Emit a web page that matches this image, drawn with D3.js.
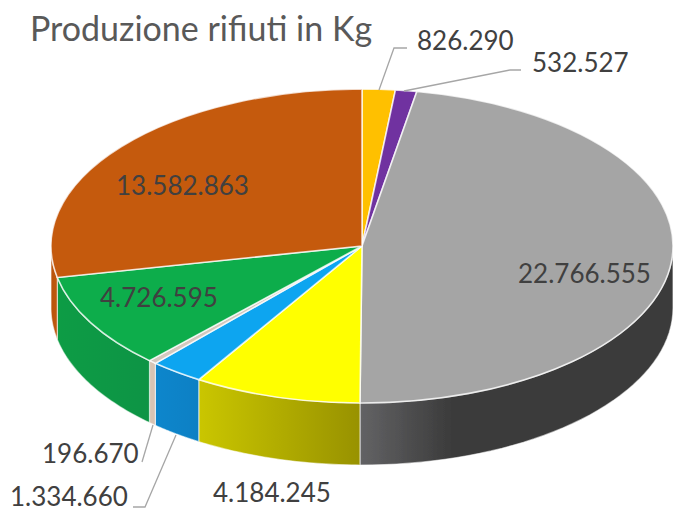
<!DOCTYPE html>
<html>
<head>
<meta charset="utf-8">
<script src="https://cdn.jsdelivr.net/npm/d3@7"></script>
<style>
  html, body { margin: 0; padding: 0; background: #fff; }
  svg { display: block; }
  text { font-family: Lato, "Open Sans", sans-serif; }
</style>
</head>
<body>
<svg id="chart" width="674" height="512"></svg>
<script>
// values, clockwise from 12 o'clock
var labels = ["826.290", "532.527", "22.766.555", "4.184.245", "1.334.660", "196.670", "4.726.595", "13.582.863"];
var values = [826290, 532527, 22766555, 4184245, 1334660, 196670, 4726595, 13582863];
var topColors = ["#FFC000", "#7030A0", "#A5A5A5", "#FFFF00", "#0FA5F0", "#D3C8BE", "#0BAD4C", "#C55A11"];
var wallFrom = ["#C09000", "#542478", "#626264", "#CAC600", "#0A86CC", "#D8C4B4", "#0E9C45", "#B9540F"];
var wallTo = ["#C09000", "#542478", "#3B3B3B", "#989200", "#0A80C4", "#D8C4B4", "#0E9444", "#C05A10"];

// label placement, same order as labels
var labelX = [417, 532, 518, 213, 10, 42, 100, 116];
var labelY = [50, 72, 283, 502, 506, 463, 307, 195];
// leader lines: slice index and its bend points
var leaders = [
  {i: 0, pts: [[379, 90], [394, 48], [407, 48]]},
  {i: 1, pts: [[404, 91], [510, 70], [521, 70]]},
  {i: 5, pts: [[153, 425], [142, 462]]},
  {i: 4, pts: [[176, 435], [145, 507], [133, 507]]}
];

var svg = d3.select("#chart"),
    cx = 362, cy = 246,
    rx = 311, ry = 157,
    depth = 62;

var slices = d3.pie().sort(null).value(function(d) { return d; })(values);

function px(a) { return cx + rx * Math.sin(a); }
function py(a) { return cy - ry * Math.cos(a); }

var defs = svg.append("defs");

// the source is a slightly soft screenshot
defs.append("filter").attr("id", "soft")
    .append("feGaussianBlur").attr("stdDeviation", 0.5);

var pieGroup = svg.append("g").attr("filter", "url(#soft)");

// walls: only the front half of the disc shows its side
var wall = pieGroup.append("g");
var line = d3.line();
slices.forEach(function(s, i) {
  var a0 = Math.max(s.startAngle, Math.PI / 2),
      a1 = Math.min(s.endAngle, Math.PI * 3 / 2);
  if (a1 <= a0) return;
  var steps = d3.range(0, 41).map(function(k) { return a0 + (a1 - a0) * k / 40; });
  var top = steps.map(function(a) { return [px(a), py(a)]; });
  var bottom = steps.slice().reverse().map(function(a) { return [px(a), py(a) + depth]; });

  var xs = [px(a0), px(a1)];
  // grey wall gets dark quickly, the others fade over their whole width
  var x1 = d3.min(xs), x2 = i == 2 ? x1 + 90 : d3.max(xs);
  if (i == 2) x1 = px(Math.PI);
  var grad = defs.append("linearGradient")
      .attr("id", "wall" + i)
      .attr("gradientUnits", "userSpaceOnUse")
      .attr("x1", x1).attr("x2", i == 2 ? x1 + 90 : x2)
      .attr("y1", 0).attr("y2", 0);
  grad.append("stop").attr("offset", 0).attr("stop-color", wallFrom[i]);
  grad.append("stop").attr("offset", 1).attr("stop-color", wallTo[i]);

  wall.append("path")
      .attr("d", line(top.concat(bottom)) + "Z")
      .attr("fill", "url(#wall" + i + ")")
      .attr("stroke", "#fff")
      .attr("stroke-opacity", 0.55)
      .attr("stroke-width", 1.2);
});

// top face: a normal pie squashed in y
var arc = d3.arc().innerRadius(0).outerRadius(rx);
pieGroup.append("g")
    .attr("transform", "translate(" + cx + "," + cy + ") scale(1," + (ry / rx) + ")")
  .selectAll("path")
  .data(slices)
  .enter().append("path")
    .attr("d", arc)
    .attr("fill", function(d, i) { return topColors[i]; })
    .attr("stroke", "#fff")
    .attr("stroke-opacity", 0.75)
    .attr("stroke-width", 1.6)
    .attr("vector-effect", "non-scaling-stroke");

// leader lines
svg.append("g").selectAll("path")
    .data(leaders)
    .enter().append("path")
    .attr("d", function(d) { return line(d.pts); })
    .attr("fill", "none")
    .attr("stroke", "#A6A6A6")
    .attr("stroke-width", 1.3);

// value labels
svg.append("g").selectAll("text")
    .data(labels)
    .enter().append("text")
    .attr("x", function(d, i) { return labelX[i]; })
    .attr("y", function(d, i) { return labelY[i]; })
    .attr("font-size", 26)
    .attr("fill", "#404040")
    .text(function(d) { return d; });

svg.append("text")
    .attr("x", 30)
    .attr("y", 41)
    .attr("font-size", 34)
    .attr("fill", "#595959")
    .text("Produzione rifiuti in Kg");
</script>
</body>
</html>
